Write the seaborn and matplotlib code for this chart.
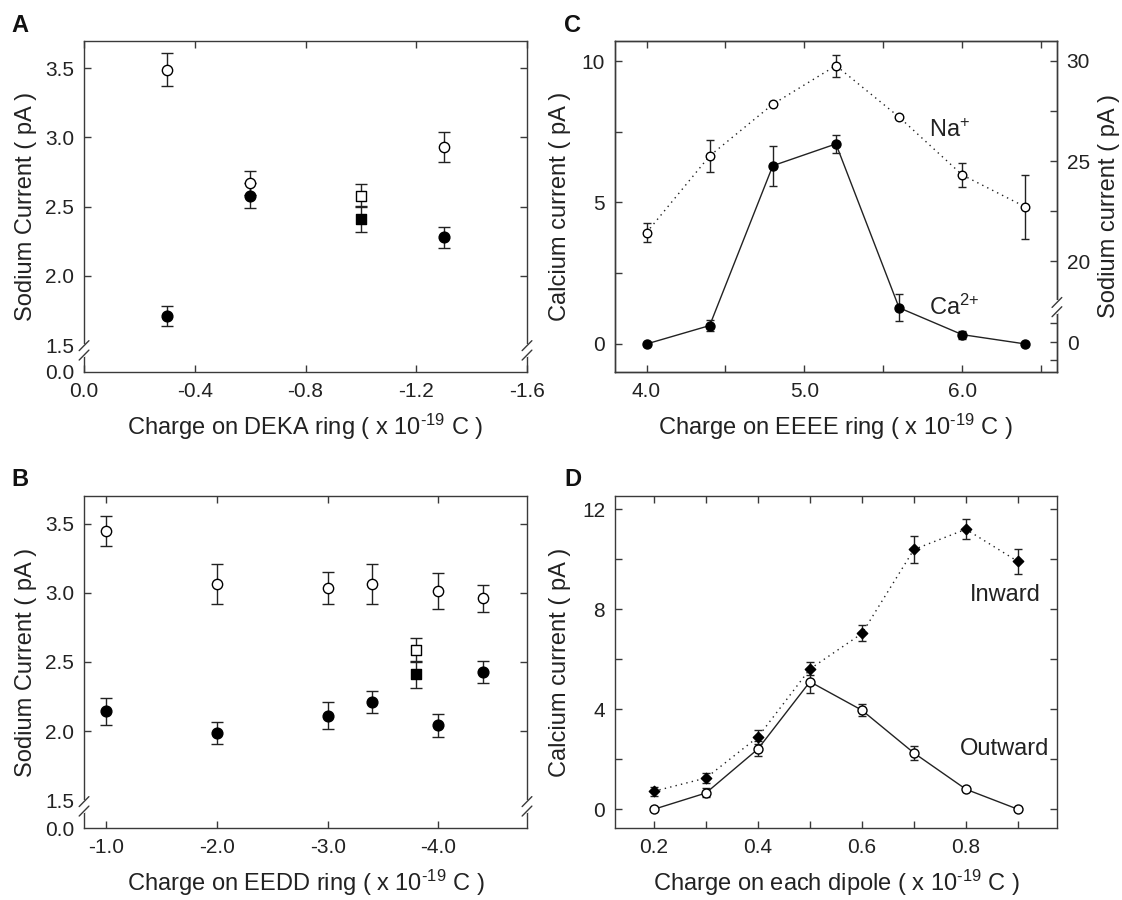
import matplotlib
matplotlib.use("Agg")
import matplotlib.pyplot as plt
import seaborn as sns

# ---- data -------------------------------------------------------------
# panel A : DEKA ring
a_x_open = [-0.3, -0.6, -1.3]
a_y_open = [3.49, 2.67, 2.93]
a_e_open = [0.12, 0.085, 0.11]
a_x_fill = [-0.3, -0.6, -1.3]
a_y_fill = [1.71, 2.58, 2.28]
a_e_fill = [0.07, 0.09, 0.075]
a_x_sq = [-1.0]
a_y_sq_open = [2.58]
a_e_sq_open = [0.085]
a_y_sq_fill = [2.41]
a_e_sq_fill = [0.095]
a_xticks = [0.0, -0.4, -0.8, -1.2, -1.6]
a_xticklabels = ["0.0", "-0.4", "-0.8", "-1.2", "-1.6"]

# panel B : EEDD ring
b_x = [-1.0, -2.0, -3.0, -3.4, -4.0, -4.4]
b_y_open = [3.445, 3.063, 3.034, 3.063, 3.012, 2.96]
b_e_open = [0.11, 0.146, 0.115, 0.142, 0.131, 0.099]
b_y_fill = [2.145, 1.986, 2.113, 2.212, 2.041, 2.428]
b_e_fill = [0.097, 0.078, 0.098, 0.08, 0.084, 0.082]
b_x_sq = [-3.8]
b_y_sq_open = [2.584]
b_e_sq_open = [0.086]
b_y_sq_fill = [2.41]
b_e_sq_fill = [0.1]
b_xticks = [-1.0, -2.0, -3.0, -4.0]
b_xticklabels = ["-1.0", "-2.0", "-3.0", "-4.0"]

# shared y ticks for A and B (broken axis, bottom tick stands for 0.0)
ab_yticks = [1.5, 2.0, 2.5, 3.0, 3.5]
ab_yticklabels = ["1.5", "2.0", "2.5", "3.0", "3.5"]

# panel C : EEEE ring
c_x = [4.0, 4.4, 4.8, 5.2, 5.6, 6.0, 6.4]
c_ca = [0.0, 0.65, 6.3, 7.07, 1.28, 0.33, 0.0]
c_ca_err = [0.0, 0.18, 0.7, 0.31, 0.47, 0.14, 0.0]
c_na = [21.43, 25.26, 27.84, 29.77, 27.2, 24.31, 22.71]
c_na_err = [0.47, 0.81, 0.0, 0.55, 0.0, 0.58, 1.59]

# panel D : dipole
d_x = [0.2, 0.3, 0.4, 0.5, 0.6, 0.7, 0.8, 0.9]
d_in = [0.72, 1.25, 2.89, 5.61, 7.03, 10.39, 11.2, 9.91]
d_in_err = [0.18, 0.19, 0.29, 0.26, 0.32, 0.53, 0.4, 0.5]
d_out = [0.0, 0.65, 2.41, 5.1, 3.96, 2.25, 0.80, 0.0]
d_out_err = [0.0, 0.18, 0.3, 0.45, 0.24, 0.27, 0.0, 0.0]

# ---- style ------------------------------------------------------------
sns.set_style("ticks")
plt.rcParams["font.family"] = ["Liberation Sans", "DejaVu Sans"]
plt.rcParams["mathtext.fontset"] = "custom"
plt.rcParams["mathtext.rm"] = "Liberation Sans"
plt.rcParams["mathtext.it"] = "Liberation Sans:italic"
plt.rcParams["axes.unicode_minus"] = False

INK = "#3a3a3a"
TXT = "#222222"
TICK_FS = 15
LABEL_FS = 17
UNIT = " ( x 10$^{\\text{-19}}$ C )"

fig = plt.figure(figsize=(11.22, 9.0), dpi=100)
axA = fig.add_axes([0.0749, 0.5867, 0.3948, 0.3678])
axB = fig.add_axes([0.0749, 0.0800, 0.3948, 0.3689])
axC = fig.add_axes([0.5481, 0.5867, 0.3939, 0.3678])
axD = fig.add_axes([0.5481, 0.0800, 0.3939, 0.3689])


def style_axes(ax, right=True):
    for s in ax.spines.values():
        s.set_color(INK)
        s.set_linewidth(1.0)
        s.set_visible(True)
    ax.tick_params(which="both", direction="in", top=True, right=right,
                   color=INK, width=1.0, labelsize=TICK_FS, pad=7,
                   labelcolor=TXT)
    ax.tick_params(which="major", length=5)
    ax.tick_params(which="minor", length=5)


def errs(ax, x, y, e, cap=4):
    ax.errorbar(x, y, yerr=e, fmt="none", ecolor=TXT, elinewidth=1.0,
                capsize=cap, capthick=1.0, zorder=2)


def dots(ax, x, y, marker, filled, s):
    sns.scatterplot(x=x, y=y, ax=ax, marker=marker, s=s,
                    color="black" if filled else "white",
                    edgecolor="black", linewidth=1.0, zorder=4, legend=False)


def axis_break(ax, y1, y2, sides=(0, 1), dx=0.011, dy=0.015):
    for xs in sides:
        ax.plot([xs, xs], [y1, y2], transform=ax.transAxes, color="white",
                lw=3, clip_on=False, zorder=10)
        for yy in (y1, y2):
            ax.plot([xs - dx, xs + dx], [yy - dy, yy + dy],
                    transform=ax.transAxes, color=INK, lw=1.0,
                    clip_on=False, zorder=11)


# ---- panel A ----------------------------------------------------------
errs(axA, a_x_open, a_y_open, a_e_open)
errs(axA, a_x_fill, a_y_fill, a_e_fill)
errs(axA, a_x_sq, a_y_sq_open, a_e_sq_open)
errs(axA, a_x_sq, a_y_sq_fill, a_e_sq_fill)
dots(axA, a_x_open, a_y_open, "o", False, 55)
dots(axA, a_x_fill, a_y_fill, "o", True, 60)
dots(axA, a_x_sq, a_y_sq_open, "s", False, 45)
dots(axA, a_x_sq, a_y_sq_fill, "s", True, 45)
axA.set_xlim(0.0, -1.6)
axA.set_ylim(1.306, 3.697)
axA.set_xticks(a_xticks)
axA.set_xticklabels(a_xticklabels)

# ---- panel B ----------------------------------------------------------
errs(axB, b_x, b_y_open, b_e_open)
errs(axB, b_x, b_y_fill, b_e_fill)
errs(axB, b_x_sq, b_y_sq_open, b_e_sq_open)
errs(axB, b_x_sq, b_y_sq_fill, b_e_sq_fill)
dots(axB, b_x, b_y_open, "o", False, 55)
dots(axB, b_x, b_y_fill, "o", True, 60)
dots(axB, b_x_sq, b_y_sq_open, "s", False, 45)
dots(axB, b_x_sq, b_y_sq_fill, "s", True, 45)
axB.set_xlim(-0.8, -4.8)
axB.set_ylim(1.30, 3.70)
axB.set_xticks(b_xticks)
axB.set_xticklabels(b_xticklabels)

for ax in (axA, axB):
    style_axes(ax)
    lo = ax.get_ylim()[0]
    ax.set_yticks([lo] + ab_yticks)
    ax.set_yticklabels(["0.0"] + ab_yticklabels)
    for t in ax.yaxis.get_major_ticks()[:2]:
        t.tick1line.set_visible(False)
        t.tick2line.set_visible(False)
    axis_break(ax, 0.051, 0.0795)
    ax.set_ylabel("Sodium Current ( pA )", fontsize=LABEL_FS, labelpad=6,
                  color=TXT)

axA.set_xlabel("Charge on DEKA ring" + UNIT, fontsize=LABEL_FS, labelpad=8,
               color=TXT)
axB.set_xlabel("Charge on EEDD ring" + UNIT, fontsize=LABEL_FS, labelpad=8,
               color=TXT)

# ---- panel C ----------------------------------------------------------
axC2 = axC.twinx()
axC2.set_position(axC.get_position())
sns.lineplot(x=c_x, y=c_ca, ax=axC, color=TXT, linewidth=1.0,
             sort=False, zorder=1)
errs(axC, c_x, c_ca, c_ca_err, cap=2.8)
dots(axC, c_x, c_ca, "o", True, 42)
sns.lineplot(x=c_x, y=c_na, ax=axC2, color=TXT, linewidth=1.0,
             linestyle=(0, (1, 3)), sort=False, zorder=1)
errs(axC2, c_x, c_na, c_na_err, cap=2.8)
dots(axC2, c_x, c_na, "o", False, 38)

axC.set_xlim(3.8, 6.6)
axC.set_ylim(-0.99, 10.71)
axC.set_xticks([4.0, 5.0, 6.0])
axC.set_xticklabels(["4.0", "5.0", "6.0"])
axC.set_xticks([4.5, 5.5, 6.5], minor=True)
axC.set_yticks([0, 5, 10])
axC.set_yticklabels(["0", "5", "10"])
axC.set_yticks([2.5, 7.5], minor=True)
style_axes(axC, right=False)

axC2.set_ylim(14.47, 31.0)
axC2.set_yticks([15.96, 20, 25, 30])
axC2.set_yticklabels(["0", "20", "25", "30"])
axC2.set_yticks([15.07, 16.92, 22.5, 27.5], minor=True)
for s in axC2.spines.values():
    s.set_color(INK)
    s.set_linewidth(1.0)
axC2.tick_params(which="both", direction="in", length=5, color=INK,
                 width=1.0, labelsize=TICK_FS, pad=7, labelcolor=TXT)
axis_break(axC2, 0.182, 0.21, sides=(1,))

axC.text(5.79, 7.56, "Na$^{\\text{+}}$", fontsize=LABEL_FS, va="center",
         ha="left", color=TXT)
axC.text(5.79, 1.31, "Ca$^{\\text{2+}}$", fontsize=LABEL_FS, va="center",
         ha="left", color=TXT)
axC.set_ylabel("Calcium current ( pA )", fontsize=LABEL_FS, labelpad=8,
               color=TXT)
axC2.set_ylabel("Sodium current ( pA )", fontsize=LABEL_FS, labelpad=6,
                color=TXT)
axC.set_xlabel("Charge on EEEE ring" + UNIT, fontsize=LABEL_FS, labelpad=8,
               color=TXT)

# ---- panel D ----------------------------------------------------------
sns.lineplot(x=d_x, y=d_in, ax=axD, color=TXT, linewidth=1.0,
             linestyle=(0, (1, 3)), sort=False, zorder=1)
sns.lineplot(x=d_x, y=d_out, ax=axD, color=TXT, linewidth=1.0,
             sort=False, zorder=1)
errs(axD, d_x, d_in, d_in_err, cap=2.8)
errs(axD, d_x, d_out, d_out_err, cap=2.8)
dots(axD, d_x, d_in, "D", True, 28)
dots(axD, d_x, d_out, "o", False, 42)
axD.set_xlim(0.125, 0.975)
axD.set_ylim(-0.75, 12.53)
axD.set_xticks([0.2, 0.4, 0.6, 0.8])
axD.set_xticklabels(["0.2", "0.4", "0.6", "0.8"])
axD.set_xticks([0.3, 0.5, 0.7, 0.9], minor=True)
axD.set_yticks([0, 4, 8, 12])
axD.set_yticklabels(["0", "4", "8", "12"])
axD.set_yticks([2, 6, 10], minor=True)
style_axes(axD)
axD.text(0.875, 8.56, "Inward", fontsize=LABEL_FS, va="center", ha="center",
         color=TXT)
axD.text(0.875, 2.4, "Outward", fontsize=LABEL_FS, va="center", ha="center",
         color=TXT)
axD.set_ylabel("Calcium current ( pA )", fontsize=LABEL_FS, labelpad=8,
               color=TXT)
axD.set_xlabel("Charge on each dipole" + UNIT, fontsize=LABEL_FS,
               labelpad=8, color=TXT)

# ---- panel letters ----------------------------------------------------
for lab, x, y in (("A", 0.010, 0.972), ("B", 0.010, 0.467),
                  ("C", 0.503, 0.972), ("D", 0.503, 0.467)):
    fig.text(x, y, lab, fontsize=17, fontweight="bold", va="center",
             ha="left", color="#111111")

fig.savefig("out.png", dpi=100)
